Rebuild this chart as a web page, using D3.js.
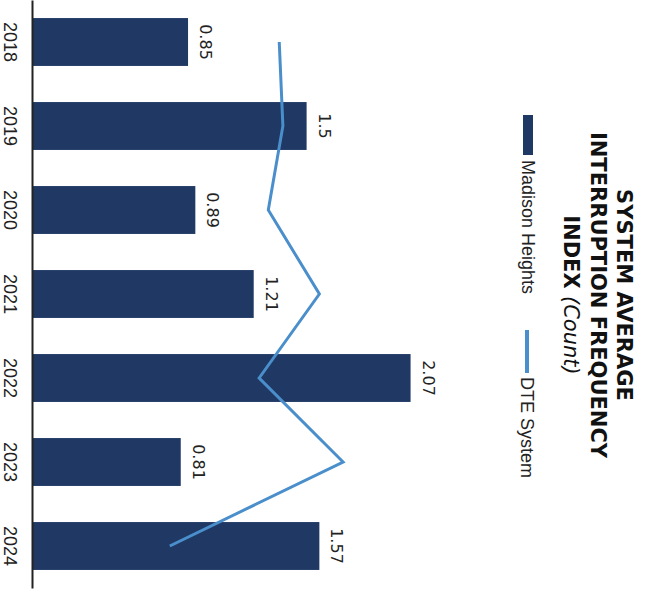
<!DOCTYPE html>
<html>
<head>
<meta charset="utf-8">
<script src="https://cdn.jsdelivr.net/npm/d3@7"></script>
<style>
  body { margin: 0; background: #fff; }
  .tick text { font-family: "Liberation Sans", Arial, sans-serif; font-size: 18px; fill: #222; }
</style>
</head>
<body>
<div class="chart"></div>
<script>
var years = ["2018", "2019", "2020", "2021", "2022", "2023", "2024"];
var madisonHeights = [0.85, 1.5, 0.89, 1.21, 2.07, 0.81, 1.57];
var dteSystem = [1.35, 1.37, 1.29, 1.57, 1.24, 1.70, 0.75];
var seriesNames = ["Madison Heights", "DTE System"];

var svgWidth = 654;
var svgHeight = 592;

// the chart is drawn upright, then turned a quarter turn clockwise
var width = svgHeight;   // 592
var height = svgWidth;   // 654
var baseY = 621;

var svg = d3.select(".chart")
  .append("svg")
  .attr("width", svgWidth)
  .attr("height", svgHeight);

var chartGroup = svg.append("g")
  .attr("transform", `translate(${svgWidth}, 0) rotate(90)`);

var xBand = d3.scaleBand()
  .domain(years)
  .range([0, 588])
  .paddingInner(0.43)
  .paddingOuter(0.215);

var yLinear = d3.scaleLinear()
  .domain([0, 3])
  .range([baseY, baseY - 547.2]);

// bars
chartGroup.selectAll("rect.bar")
  .data(madisonHeights)
  .enter()
  .append("rect")
  .attr("class", "bar")
  .attr("x", (d, i) => xBand(years[i]))
  .attr("y", d => yLinear(d))
  .attr("width", xBand.bandwidth())
  .attr("height", d => baseY - yLinear(d))
  .attr("fill", "#1f3864");

// value labels
chartGroup.selectAll("text.val")
  .data(madisonHeights)
  .enter()
  .append("text")
  .attr("class", "val")
  .attr("x", (d, i) => xBand(years[i]) + xBand.bandwidth() / 2)
  .attr("y", d => yLinear(d) - 12)
  .attr("text-anchor", "middle")
  .attr("font-family", "DejaVu Sans, Verdana, sans-serif")
  .attr("font-size", "16px")
  .attr("fill", "#222")
  .text(d => d);

// DTE line
var line = d3.line()
  .x((d, i) => xBand(years[i]) + xBand.bandwidth() / 2)
  .y(d => yLinear(d));

chartGroup.append("path")
  .datum(dteSystem)
  .attr("d", line)
  .attr("fill", "none")
  .attr("stroke", "#4a8fcb")
  .attr("stroke-width", 3);

// category axis
var bottomAxis = d3.axisBottom(xBand).tickSize(0).tickPadding(16);
var xAxis = chartGroup.append("g")
  .attr("transform", `translate(0, ${baseY})`)
  .call(bottomAxis);
xAxis.select(".domain")
  .attr("stroke", "#222")
  .attr("stroke-width", 2);

// title
var title = chartGroup.append("text")
  .attr("text-anchor", "middle")
  .attr("font-family", "DejaVu Sans, Verdana, sans-serif")
  .attr("font-size", "21px")
  .attr("fill", "#111");
title.append("tspan").attr("x", 295).attr("y", 37)
  .attr("font-weight", "bold").text("SYSTEM AVERAGE");
title.append("tspan").attr("x", 295).attr("y", 63.5)
  .attr("font-weight", "bold").text("INTERRUPTION FREQUENCY");
var l3 = title.append("tspan").attr("x", 295).attr("y", 90);
l3.append("tspan").attr("font-weight", "bold").text("INDEX ");
l3.append("tspan").attr("font-style", "italic").text("(Count)");

// legend
var legend = chartGroup.append("g")
  .attr("font-family", "Liberation Sans, Arial, sans-serif")
  .attr("font-size", "18px")
  .attr("fill", "#222");

legend.append("rect")
  .attr("x", 115).attr("y", 121)
  .attr("width", 40).attr("height", 10)
  .attr("fill", "#1f3864");
legend.append("text")
  .attr("x", 160).attr("y", 132)
  .text(seriesNames[0]);

legend.append("line")
  .attr("x1", 330).attr("x2", 373)
  .attr("y1", 127).attr("y2", 127)
  .attr("stroke", "#4a8fcb")
  .attr("stroke-width", 4);
legend.append("text")
  .attr("x", 377).attr("y", 133)
  .text(seriesNames[1]);
</script>
</body>
</html>
